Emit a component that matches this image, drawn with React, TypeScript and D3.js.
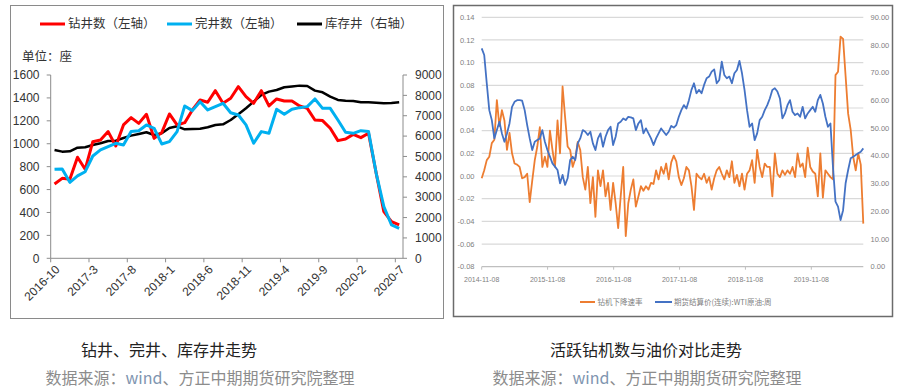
import React from "react";
import * as d3 from "d3";

// ---------- Left chart data ----------
const categories = [
  "2016-10","2016-11","2016-12","2017-1","2017-2","2017-3","2017-4","2017-5","2017-6","2017-7","2017-8","2017-9","2017-10","2017-11","2017-12",
  "2018-1","2018-2","2018-3","2018-4","2018-5","2018-6","2018-7","2018-8","2018-9","2018-10","2018-11","2018-12",
  "2019-1","2019-2","2019-3","2019-4","2019-5","2019-6","2019-7","2019-8","2019-9","2019-10","2019-11","2019-12",
  "2020-1","2020-2","2020-3","2020-4","2020-5","2020-6","2020-7",
];
const drilled = [649,698,690,882,777,1018,1033,1106,980,1164,1228,1178,1257,1047,1097,1260,1164,1184,1295,1382,1362,1463,1353,1397,1498,1411,1353,1463,1330,1391,1373,1373,1330,1309,1207,1202,1135,1027,1042,1082,1053,1091,742,407,320,291];
const completed = [777,780,663,719,756,893,946,975,1004,989,1106,1114,1164,1135,998,1018,1106,1330,1289,1367,1295,1324,1353,1271,1251,1164,1004,1106,1091,1301,1257,1301,1315,1324,1391,1309,1309,1207,1100,1091,1114,1106,742,451,291,262];
const inventory = [5319,5237,5254,5434,5450,5565,5646,5761,5777,5908,6023,6105,6187,6056,6137,6400,6480,6334,6350,6366,6432,6547,6579,6792,7070,7365,7692,8020,8183,8265,8396,8440,8478,8461,8232,8150,7938,7774,7741,7725,7660,7660,7643,7610,7627,7660];
const leftTicks = [0,200,400,600,800,1000,1200,1400,1600];
const rightTicks = [0,1000,2000,3000,4000,5000,6000,7000,8000,9000];
const xLabelEvery = 5;
const leftLegend = ["钻井数（左轴）", "完井数（左轴）", "库存井（右轴）"];

// ---------- Right chart data (bi-weekly from 2014-11-08) ----------
const rigStart = "2014-11-08";
const rigDecline = [
  -0.002,0.005,0.014,0.017,0.029,0.032,0.067,0.044,0.058,0.049,
  0.023,0.038,0.020,0.011,0.010,0.008,-0.002,-0.001,0.002,-0.023,
  -0.004,0.014,0.026,0.043,0.008,0.017,0.008,0.040,0.023,0.008,
  0.049,0.020,0.079,0.052,0.026,0.023,0.008,0.015,0.030,0.023,
  -0.001,-0.012,0.008,-0.024,-0.001,-0.036,0.005,-0.009,0.005,-0.018,
  -0.006,-0.030,-0.006,-0.024,-0.046,-0.018,0.008,-0.053,-0.024,-0.012,
  -0.003,-0.027,-0.018,-0.009,-0.013,-0.009,-0.012,-0.006,-0.007,0.005,
  -0.003,0.008,0.002,0.011,-0.003,0.012,0.018,0.013,-0.001,-0.008,
  -0.002,0.008,0.005,-0.009,-0.030,0.002,-0.001,-0.003,0.002,-0.006,
  -0.001,-0.012,-0.002,0.005,0.008,0.002,-0.003,0.005,-0.001,0.013,
  -0.006,0.001,-0.009,0.002,-0.012,0.002,0.005,0.014,-0.006,0.023,
  0.008,-0.001,0.011,0.008,0.008,-0.018,0.020,0.002,-0.001,0.005,
  0.001,0.005,0.002,0.008,-0.001,0.020,0.008,0.011,-0.001,0.025,
  0.008,0.004,0.002,-0.018,0.020,-0.019,0.005,0.002,-0.001,-0.003,
  0.089,0.092,0.123,0.121,0.088,0.055,0.041,0.017,0.005,0.020,
  0.010,-0.042,
];
const wti = [
  78.8,76.4,66.2,56.5,52.9,46.3,49.3,52.3,48.1,45.1,
  48.1,51.7,57.7,59.5,60.1,60.1,59.9,56.5,51.1,46.3,
  42.1,45.1,45.7,46.3,49.3,45.1,42.1,39.7,37.3,36.1,
  34.9,30.1,33.1,29.5,31.9,38.5,39.7,38.5,44.5,46.3,
  49.3,48.7,47.5,48.7,44.5,42.1,46.3,48.1,43.3,46.9,
  49.3,50.5,43.9,46.9,51.7,52.3,53.5,52.9,54.1,53.9,
  53.5,49.3,51.7,52.9,48.1,49.9,48.1,46.3,43.9,46.3,
  48.1,49.9,48.7,47.5,48.7,50.8,50.2,51.1,54.1,56.5,
  58.3,57.1,60.1,63.8,66.2,62.6,63.8,62.6,65.6,68.0,
  68.6,70.4,71.2,66.2,67.4,74.0,69.2,68.0,68.6,66.2,
  69.8,71.0,74.3,69.8,63.8,56.5,50.5,51.7,45.7,48.1,
  52.9,54.1,56.5,58.3,60.7,63.8,64.4,63.2,60.7,53.5,
  55.3,58.3,60.1,55.9,54.7,55.3,54.1,57.7,53.5,55.3,
  56.5,57.7,55.9,60.1,62.0,58.9,54.1,50.5,51.7,36.0,
  23.5,21.7,16.8,20.4,30.1,34.9,39.1,39.7,40.3,40.9,
  41.5,42.7,
];
const rigTickDates = ["2014-11-08","2015-11-08","2016-11-08","2017-11-08","2018-11-08","2019-11-08"];
const rigLeftTicks = [-0.08,-0.06,-0.04,-0.02,0,0.02,0.04,0.06,0.08,0.10,0.12,0.14];
const rigLeftLabels = ["-0.08","-0.06","-0.04","-0.02","0.00","0.02","0.04","0.06","0.08","0.10","0.12","0.14"];
const rigRightTicks = [0,10,20,30,40,50,60,70,80,90];
const rigRightLabels = ["0.00","10.00","20.00","30.00","40.00","50.00","60.00","70.00","80.00","90.00"];
const rightLegend = ["钻机下降速率", "期货结算价(连续):WTI原油:周"];

const captions = ["钻井、完井、库存井走势", "活跃钻机数与油价对比走势"];

const LAT = "'Liberation Sans', Arial, sans-serif";
const CJK = "'Noto Sans CJK SC', 'Noto Sans', sans-serif";

function LeftChart() {
  const x0 = 50.7, x1 = 403, yTop = 75, yBot = 258.3;
  const xb = d3.scaleBand<string>().domain(categories).range([x0, x1]);
  const cx = (i: number) => (xb(categories[i]) as number) + xb.bandwidth() / 2;
  const yl = d3.scaleLinear().domain([0, 1600]).range([yBot, yTop]);
  const yr = d3.scaleLinear().domain([0, 9000]).range([yBot, yTop]);
  const lineL = d3.line<number>().x((_, i) => cx(i)).y((d) => yl(d));
  const lineR = d3.line<number>().x((_, i) => cx(i)).y((d) => yr(d));
  const axisColor = "#8c8c8c";
  const labelIdx = categories.map((_, i) => i).filter((i) => i % xLabelEvery === 0);
  const legendItems = [
    { x: 40, color: "#ff0000", label: leftLegend[0] },
    { x: 167, color: "#00b0f0", label: leftLegend[1] },
    { x: 297, color: "#000000", label: leftLegend[2] },
  ];
  return (
    <g>
      <rect x={10.5} y={5.5} width={433} height={313} fill="#fff" stroke="#8a8a8a" strokeWidth={1} />
      {legendItems.map((d, k) => (
        <g key={k}>
          <line x1={d.x} x2={d.x + 25} y1={24} y2={24} stroke={d.color} strokeWidth={3} />
          <text x={d.x + 28} y={24} dy="0.35em" fontFamily={CJK} fontSize={12.5} fill="#333">{d.label}</text>
        </g>
      ))}
      <text x={22} y={57} dy="0.35em" fontFamily={CJK} fontSize={12.5} fill="#333">单位：座</text>
      {/* axes */}
      <line x1={x0} x2={x0} y1={yTop} y2={yBot} stroke={axisColor} />
      <line x1={x1} x2={x1} y1={yTop} y2={yBot} stroke={axisColor} />
      <line x1={x0} x2={x1} y1={yBot} y2={yBot} stroke={axisColor} />
      {leftTicks.map((t) => (
        <g key={"l" + t}>
          <line x1={x0 - 4} x2={x0} y1={yl(t)} y2={yl(t)} stroke={axisColor} />
          <text x={39.5} y={yl(t)} dy="0.35em" textAnchor="end" fontFamily={LAT} fontSize={12} fill="#333">{t}</text>
        </g>
      ))}
      {rightTicks.map((t) => (
        <g key={"r" + t}>
          <line x1={x1} x2={x1 + 4} y1={yr(t)} y2={yr(t)} stroke={axisColor} />
          <text x={415} y={yr(t)} dy="0.35em" textAnchor="start" fontFamily={LAT} fontSize={12} fill="#333">{t}</text>
        </g>
      ))}
      {labelIdx.map((i) => (
        <g key={"x" + i}>
          <line x1={xb(categories[i]) as number} x2={xb(categories[i]) as number} y1={yBot} y2={yBot + 4} stroke={axisColor} />
          <text transform={`translate(${cx(i) + 3},${yBot + 9}) rotate(-45)`} textAnchor="end" dy="0.35em" fontFamily={LAT} fontSize={12} fill="#333">{categories[i]}</text>
        </g>
      ))}
      <path d={lineR(inventory) || ""} fill="none" stroke="#000" strokeWidth={2.5} strokeLinejoin="round" />
      <path d={lineL(drilled) || ""} fill="none" stroke="#ff0000" strokeWidth={3} strokeLinejoin="round" />
      <path d={lineL(completed) || ""} fill="none" stroke="#00b0f0" strokeWidth={3} strokeLinejoin="round" />
    </g>
  );
}

function RightChart() {
  const x0 = 481.7, x1 = 863.3, yTop = 17.3, yBot = 266.7;
  const parse = d3.timeParse("%Y-%m-%d");
  const start = parse(rigStart) as Date;
  const dates = rigDecline.map((_, i) => d3.timeDay.offset(start, 14 * i));
  const xt = d3.scaleTime().domain([start, dates[dates.length - 1]]).range([x0, x1]);
  const yl = d3.scaleLinear().domain([-0.08, 0.14]).range([yBot, yTop]);
  const yr = d3.scaleLinear().domain([0, 90]).range([yBot, yTop]);
  const lineO = d3.line<number>().x((_, i) => xt(dates[i])).y((d) => yl(d));
  const lineB = d3.line<number>().x((_, i) => xt(dates[i])).y((d) => yr(d));
  const tickColor = "#7f7f7f";
  return (
    <g>
      <rect x={453.5} y={5.5} width={439} height={311} fill="#fff" stroke="#6b6b6b" strokeWidth={1.5} />
      {rigLeftTicks.map((t, k) => (
        <g key={"g" + k}>
          <line x1={x0} x2={x1} y1={yl(t)} y2={yl(t)} stroke={k === 0 ? "#bfbfbf" : "#d9d9d9"} strokeWidth={1.2} />
          <text x={474.5} y={yl(t)} dy="0.35em" textAnchor="end" fontFamily={LAT} fontSize={7.5} fill={tickColor}>{rigLeftLabels[k]}</text>
        </g>
      ))}
      {rigRightTicks.map((t, k) => (
        <text key={"rr" + k} x={870.5} y={yr(t)} dy="0.35em" textAnchor="start" fontFamily={LAT} fontSize={7.5} fill={tickColor}>{rigRightLabels[k]}</text>
      ))}
      {rigTickDates.map((s) => {
        const d = parse(s) as Date;
        return (
          <g key={s}>
            <line x1={xt(d)} x2={xt(d)} y1={yBot} y2={yBot + 3} stroke="#bfbfbf" />
            <text x={xt(d)} y={yBot + 12.5} dy="0.35em" textAnchor="middle" fontFamily={LAT} fontSize={7} fill={tickColor}>{s}</text>
          </g>
        );
      })}
      <path d={lineO(rigDecline) || ""} fill="none" stroke="#ed7d31" strokeWidth={1.8} strokeLinejoin="round" />
      <path d={lineB(wti) || ""} fill="none" stroke="#4472c4" strokeWidth={1.8} strokeLinejoin="round" />
      <line x1={580} x2={595} y1={302} y2={302} stroke="#ed7d31" strokeWidth={2} />
      <text x={597.5} y={302} dy="0.35em" fontFamily={CJK} fontSize={7.5} fill="#7f7f7f">{rightLegend[0]}</text>
      <line x1={655} x2={672} y1={302} y2={302} stroke="#4472c4" strokeWidth={2} />
      <text x={674} y={302} dy="0.35em" fontFamily={CJK} fontSize={7.5} fill="#7f7f7f">{rightLegend[1]}</text>
    </g>
  );
}

function Caption({ cx, title, srcCx }: { cx: number; title: string; srcCx: number }) {
  return (
    <g>
      <text x={cx} y={350} dy="0.35em" textAnchor="middle" fontFamily={CJK} fontSize={16} fill="#222">{title}</text>
      <text x={srcCx} y={378} dy="0.35em" textAnchor="middle" fontFamily={CJK} fontSize={16} fill="#8c8c8c">
        数据来源：<tspan fill="#7f95b0">wind</tspan>、方正中期期货研究院整理
      </text>
    </g>
  );
}

export default function App() {
  return (
    <svg width={903} height={390} style={{ position: "absolute", left: 0, top: 0, background: "#fff" }}>
      <rect x={0} y={0} width={903} height={390} fill="#fff" />
      <LeftChart />
      <RightChart />
      <Caption cx={169} title={captions[0]} srcCx={200} />
      <Caption cx={646} title={captions[1]} srcCx={647} />
    </svg>
  );
}
